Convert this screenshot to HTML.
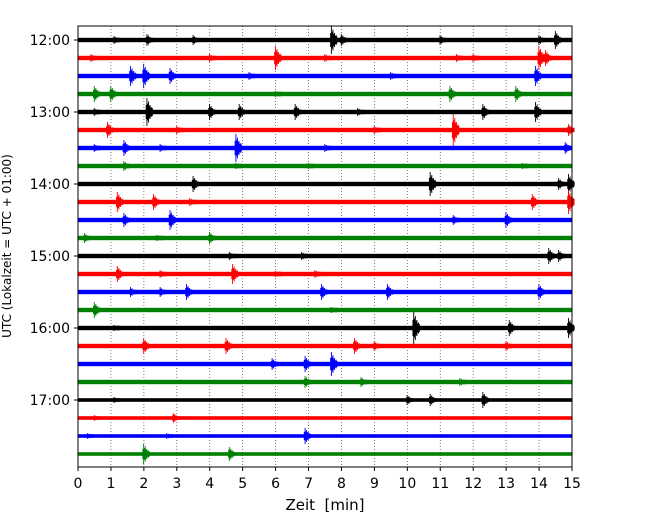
<!DOCTYPE html>
<html><head><meta charset="utf-8"><style>
body{margin:0;background:#fff}
svg{display:block;font-family:"DejaVu Sans","Liberation Sans",sans-serif}
</style></head><body>
<svg id="c" width="650" height="520">
<g id="grid"></g>
<g id="traces"></g>
<rect x="78" y="26" width="494" height="441" fill="none" stroke="#000" stroke-width="1"/>
<g id="axes"></g>
<text x="325" y="510" text-anchor="middle" font-size="15" xml:space="preserve">Zeit  [min]</text>
<text transform="translate(11,246) rotate(-90)" text-anchor="middle" font-size="12">UTC (Lokalzeit = UTC + 01:00)</text>
</svg>
<script>
const xTicks=[0,1,2,3,4,5,6,7,8,9,10,11,12,13,14,15];
const yTickLabels=["12:00","13:00","14:00","15:00","16:00","17:00"];
const colors=["#000","#f00","#00f","#008000"];
const noiseAmp=[2.2,2.2,2.2,2.2,2.2,2.2,2.2,2.2,2.2,2.2,2.2,2.2,2.2,2.2,2.2,2.2,2.2,2.2,2.2,2.2,1.8,1.8,1.8,1.8];
// events per trace: [minute, amplitude in px]
const events=[
[[2.1,6],[7.7,14],[8.0,6],[11.0,5],[14.5,9],[1.1,4],[3.5,5],[14.0,5]],
[[6.0,12],[14.0,12],[0.4,4],[4.0,4],[7.5,4],[11.5,4],[12.0,4],[14.2,8]],
[[1.6,10],[2.0,12],[2.8,8],[5.2,4],[9.5,4],[13.9,10]],
[[0.5,8],[1.0,8],[11.3,8],[13.3,8],[6.0,3]],
[[2.1,14],[4.0,8],[4.9,8],[6.6,8],[12.3,8],[13.9,10],[0.5,4],[8.5,4]],
[[0.9,8],[11.4,16],[14.9,6],[3.0,4],[9.0,4]],
[[1.4,8],[4.8,14],[14.8,6],[0.5,4],[2.5,4],[7.5,4]],
[[1.4,5],[4.8,3],[7.0,3],[13.5,3]],
[[3.5,8],[10.7,12],[14.9,10],[14.6,6]],
[[1.2,10],[2.3,8],[3.4,4],[13.8,8],[14.9,12]],
[[1.4,7],[2.8,10],[11.4,5],[13.0,8]],
[[0.2,5],[4.0,6],[2.4,3]],
[[14.3,8],[14.6,6],[6.8,4],[4.6,4]],
[[1.2,8],[2.5,4],[4.7,10],[7.2,4],[6.0,3]],
[[1.6,5],[2.5,5],[3.3,8],[7.4,8],[9.4,8],[14.0,8]],
[[0.5,8],[7.7,3]],
[[10.2,16],[13.1,8],[14.9,10],[1.1,3]],
[[2.0,8],[4.5,8],[8.4,8],[9.0,5],[13.0,5]],
[[5.9,6],[6.9,8],[7.7,12]],
[[6.9,6],[8.6,5],[11.6,4]],
[[10.0,5],[10.7,6],[12.3,8],[1.1,3]],
[[2.9,5],[0.5,3]],
[[6.9,8],[0.3,3],[2.7,3]],
[[2.0,10],[4.6,7]]
];
const NS="http://www.w3.org/2000/svg";
const X0=78,X1=572,Y0=40,DY=18;
const xs=m=>X0+m*(X1-X0)/15;
const ys=i=>Y0+i*DY;
const shape=[0.5,1,0.6,0.75,0.45,0.5,0.3,0.35,0.25];
function mk(t,a,p){const e=document.createElementNS(NS,t);for(const k in a)e.setAttribute(k,a[k]);p.appendChild(e);return e;}
const grid=document.getElementById('grid'),tr=document.getElementById('traces'),ax=document.getElementById('axes');
xTicks.forEach(t=>{
 if(t>0&&t<15){const g=mk('line',{x1:xs(t),x2:xs(t),y1:26,y2:467,stroke:'#555','stroke-width':0.8,'stroke-dasharray':'1,2'},grid);
 
 }
 const l=mk('line',{x1:xs(t),x2:xs(t),y1:467,y2:471,stroke:'#000'},ax);
 
 
 const tx=mk('text',{x:xs(t),y:488,'text-anchor':'middle','font-size':14},ax);tx.textContent=t;
 
 
});
yTickLabels.forEach((s,k)=>{
 const y=ys(k*4);
 const l=mk('line',{x1:74,x2:78,y1:y,y2:y,stroke:'#000'},ax);
 
 
 const tx=mk('text',{x:70,y:y+5,'text-anchor':'end','font-size':14},ax);tx.textContent=s;
 
 
});
events.forEach((ev,i)=>{
 const g=mk('g',{},tr);
 
 
 const c=colors[i%4],y=ys(i),a=noiseAmp[i];
 mk('rect',{x:X0,y:y-a,width:X1-X0,height:2*a,fill:c},g);
 ev.forEach(([m,amp])=>{
  let d='';const x=xs(m);
  shape.forEach((s,j)=>{const h=Math.max(a,amp*s);d+=`M${x-1+j*0.8} ${y-h}V${y+h}`;});
  const p=mk('path',{d:d,stroke:c,'stroke-width':0.9,fill:'none'},g);
  
  
 });
});
</script>
</body></html>
